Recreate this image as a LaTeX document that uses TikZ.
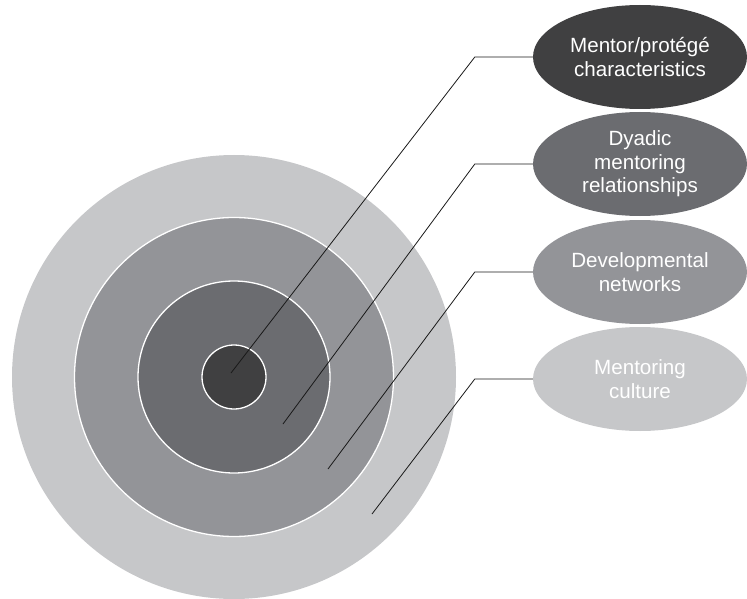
\documentclass[tikz,border=0pt]{standalone}
\usepackage{fontspec}
\setmainfont{Liberation Sans}
\usetikzlibrary{shapes.geometric}
\definecolor{gA}{HTML}{C6C7C9}
\definecolor{gB}{HTML}{939498}
\definecolor{gC}{HTML}{6B6C70}
\definecolor{gD}{HTML}{404041}
\tikzset{
  ring/.style={circle, draw=white, line width=1.3pt, inner sep=0pt},
  label/.style={ellipse, inner sep=0pt, minimum width=214pt, minimum height=104pt,
    text=white, align=center, font=\fontsize{20.6}{23.4}\selectfont},
  leader/.style={draw=black!90, line width=0.8pt}
}
\begin{document}
\begin{tikzpicture}[x=1pt,y=-1pt]
\useasboundingbox (0,0) rectangle (747,599);
\node[ring, fill=gA, draw=none, minimum size=444pt] (outer) at (234,377) {};
\node[ring, fill=gB, minimum size=319pt] (second) at (234,377) {};
\node[ring, fill=gC, minimum size=192pt] (third) at (234,377) {};
\node[ring, fill=gD, minimum size=64pt] (core) at (234,377) {};

\node[label, fill=gD] (e1) at (640,57) {Mentor/protégé\\characteristics};
\node[label, fill=gC] (e2) at (640,164) {Dyadic\\mentoring\\relationships};
\node[label, fill=gB] (e3) at (640,272) {Developmental\\networks};
\node[label, fill=gA] (e4) at (640,379) {Mentoring\\culture};

\coordinate (p1) at (231,373);
\coordinate (p2) at (283,424);
\coordinate (p3) at (328,469);
\coordinate (p4) at (372,514);

\draw[leader] (e1.west) -- ++(-58,0) -- (p1);
\draw[leader] (e2.west) -- ++(-58,0) -- (p2);
\draw[leader] (e3.west) -- ++(-58,0) -- (p3);
\draw[leader] (e4.west) -- ++(-58,0) -- (p4);
\end{tikzpicture}
\end{document}
